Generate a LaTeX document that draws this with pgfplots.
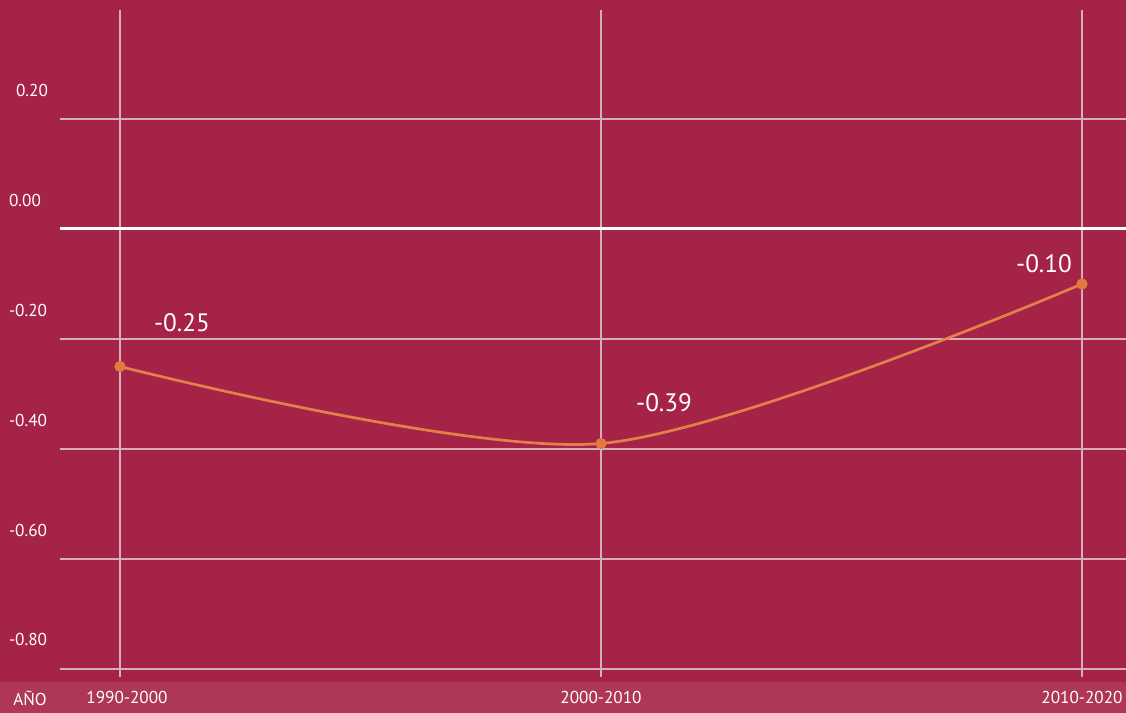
\documentclass[border=0pt]{standalone}
\usepackage{fontspec}
\setmainfont{PT Sans}
\usepackage{pgfplots}
\pgfplotsset{compat=1.18}
\definecolor{bg}{HTML}{A42346}
\definecolor{band}{HTML}{AE3756}
\definecolor{gridc}{HTML}{D4AFBB}
\definecolor{linec}{HTML}{E2804A}
\definecolor{dotc}{HTML}{E07A3E}
\begin{document}
\begin{tikzpicture}
\begin{axis}[
  scale only axis, width=563pt, height=356.5pt,
  xmin=-0.249480, xmax=2.091476, ymin=-0.88, ymax=0.416364,
  hide axis, clip=false,
  axis background/.style={fill=bg},
]
\fill[band] (rel axis cs:0,0) rectangle (rel axis cs:1,0.04348);
% horizontal gridlines
\foreach \yv in {0.2,-0.2,-0.4,-0.6,-0.8}{
  \edef\tmp{\noexpand\draw[gridc, line width=0.75pt] (axis cs:-0.1247,\yv) -- (axis cs:2.091476,\yv);}\tmp
}
% vertical gridlines
\foreach \xv in {0,1,2}{
  \edef\tmp{\noexpand\draw[gridc, line width=0.75pt] (axis cs:\xv,0.3982) -- (axis cs:\xv,-0.8145);}\tmp
}
\draw[white, line width=1.5pt] (axis cs:-0.1247,0) -- (axis cs:2.091476,0);
\addplot[smooth, color=linec, line width=1.35pt, mark=*, mark size=2.1pt,
  mark options={fill=dotc, draw=dotc}] coordinates {(0,-0.25) (1,-0.39) (2,-0.10)};
% value labels
\begin{scope}[every node/.style={text=white, inner sep=0pt, font=\fontsize{12.6}{14}\selectfont}]
\node at (rel axis cs:0.16163,0.54698) {-0.25};
\node at (rel axis cs:0.58970,0.43478) {-0.39};
\node at (rel axis cs:0.92718,0.62973) {-0.10};
\end{scope}
\begin{scope}[every node/.style={text=white, inner sep=0pt, font=\fontsize{8.6}{10}\selectfont}]
\node at (rel axis cs:0.02842,0.87377) {0.20};
\node at (rel axis cs:0.02220,0.71950) {0.00};
\node at (rel axis cs:0.02487,0.56522) {-0.20};
\node at (rel axis cs:0.02487,0.41094) {-0.40};
\node at (rel axis cs:0.02487,0.25666) {-0.60};
\node at (rel axis cs:0.02487,0.10238) {-0.80};
\node at (rel axis cs:0.02664,0.02104) {AÑO};
\node at (rel axis cs:0.11279,0.02104) {1990-2000};
\node at (rel axis cs:0.53375,0.02104) {2000-2010};
\node at (rel axis cs:0.96092,0.02104) {2010-2020};
\end{scope}
\end{axis}
\pgfresetboundingbox
\path (current axis.south west) rectangle (current axis.north east);
\end{tikzpicture}
\end{document}
